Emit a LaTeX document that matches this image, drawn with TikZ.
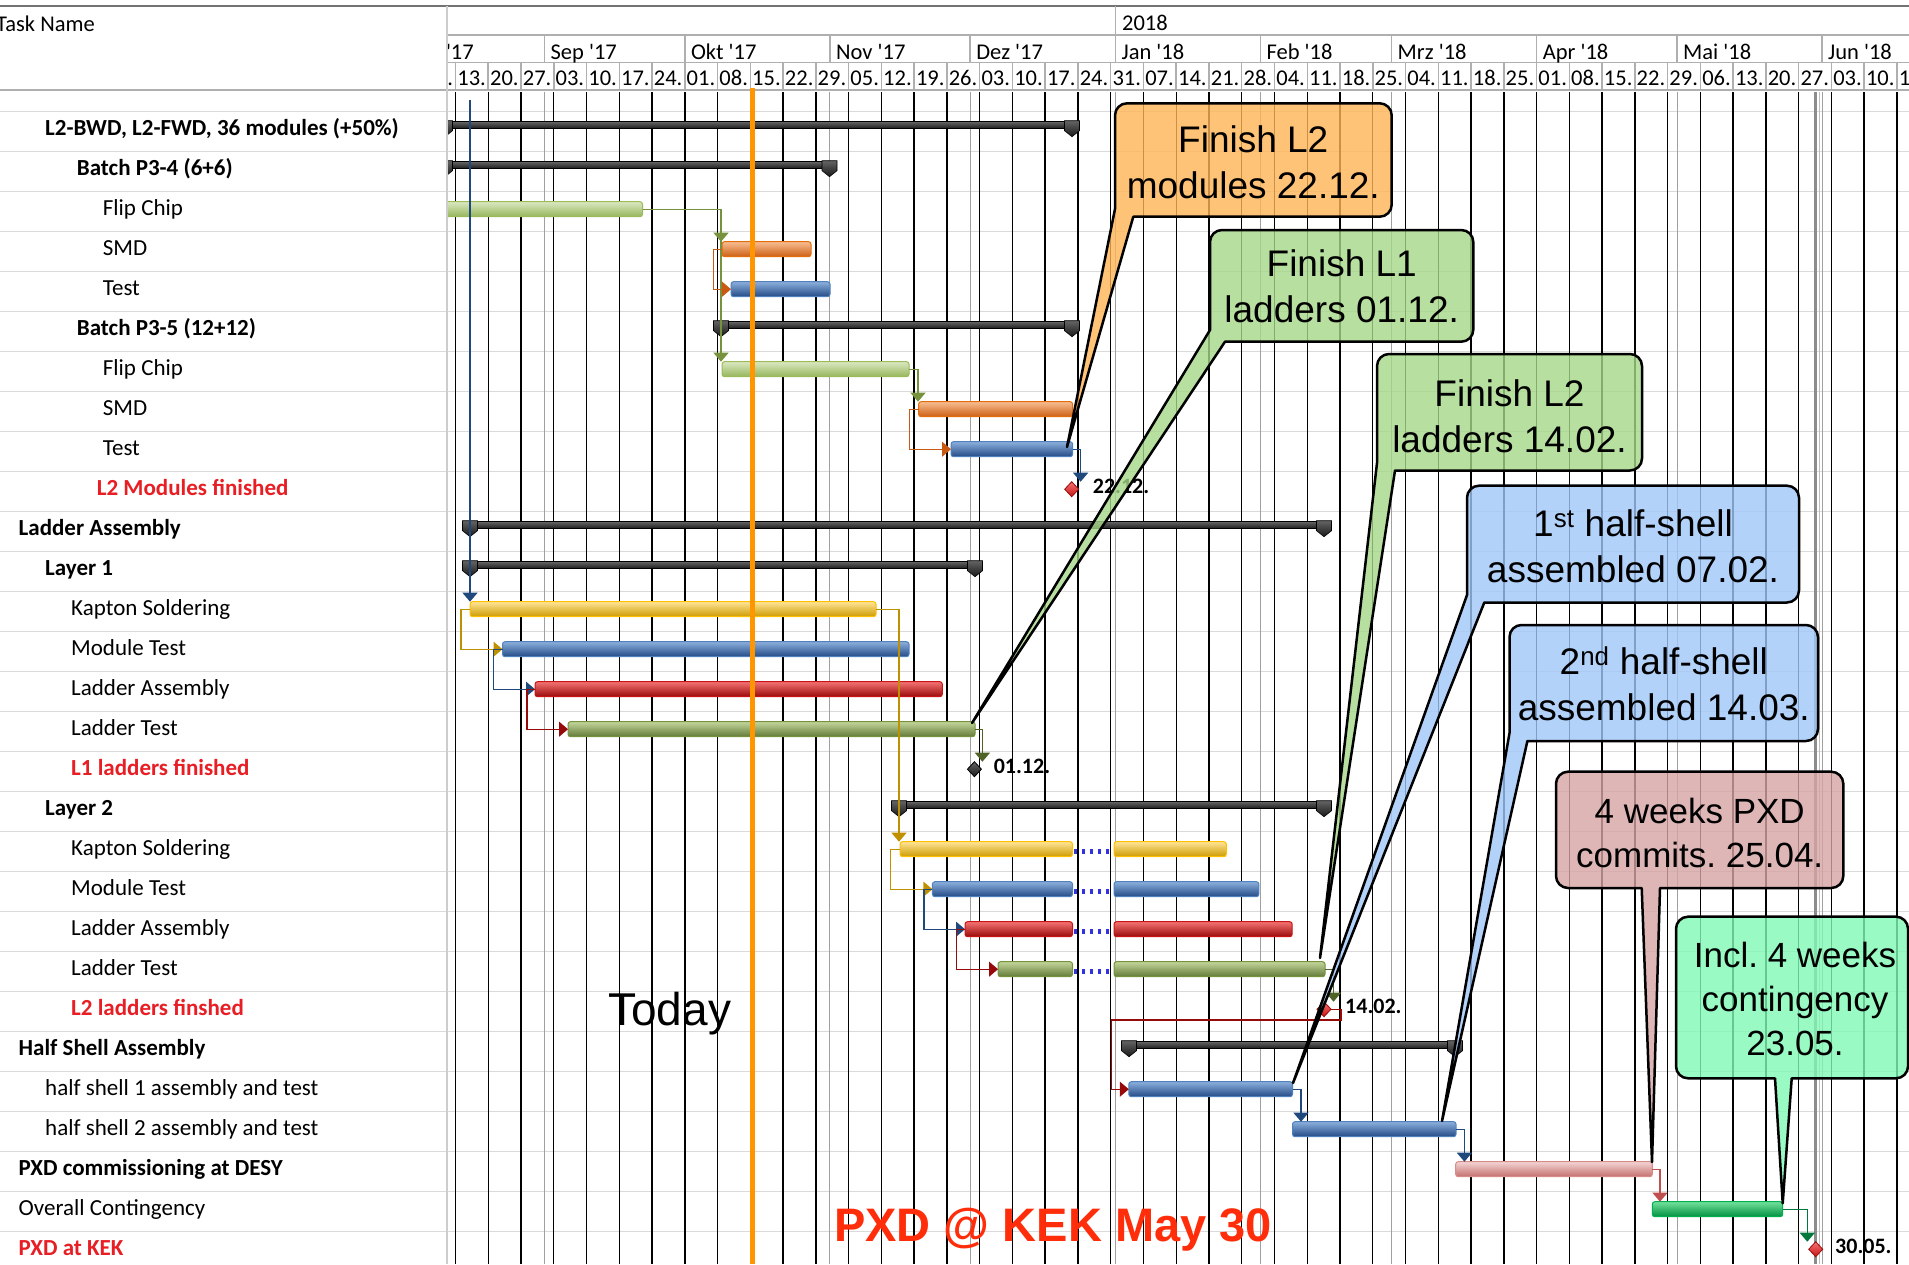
\documentclass[tikz,border=0pt]{standalone}
\usepackage{fontspec}
\setmainfont{Carlito}
\newfontfamily\arial{Liberation Sans}
\usetikzlibrary{arrows.meta}
\frenchspacing
\newcommand\apo{\textquotesingle}
% colours
\definecolor{rowc}{RGB}{218,218,218}
\definecolor{hdrc}{RGB}{175,175,175}
\definecolor{topc}{RGB}{115,115,115}
\definecolor{monc}{RGB}{160,160,160}
\definecolor{todayc}{RGB}{255,150,0}
\definecolor{taskred}{RGB}{232,30,37}
\definecolor{kekred}{RGB}{255,45,10}
\definecolor{lgT}{RGB}{218,232,192}\definecolor{lgB}{RGB}{150,182,92}\definecolor{lgD}{RGB}{155,187,89}
\definecolor{orT}{RGB}{248,190,145}\definecolor{orB}{RGB}{205,95,20}\definecolor{orD}{RGB}{228,108,10}
\definecolor{blT}{RGB}{140,175,220}\definecolor{blB}{RGB}{35,75,135}\definecolor{blD}{RGB}{79,129,189}
\definecolor{goT}{RGB}{255,228,150}\definecolor{goB}{RGB}{205,155,0}\definecolor{goD}{RGB}{255,192,0}
\definecolor{rdT}{RGB}{245,115,115}\definecolor{rdB}{RGB}{155,10,10}\definecolor{rdD}{RGB}{200,20,20}
\definecolor{olT}{RGB}{195,214,155}\definecolor{olB}{RGB}{98,122,55}\definecolor{olD}{RGB}{118,146,60}
\definecolor{pkT}{RGB}{244,212,212}\definecolor{pkB}{RGB}{196,112,110}\definecolor{pkD}{RGB}{215,140,138}
\definecolor{gnT}{RGB}{115,225,155}\definecolor{gnB}{RGB}{0,145,65}\definecolor{gnD}{RGB}{0,176,80}
\definecolor{sumT}{RGB}{100,100,100}\definecolor{sumB}{RGB}{25,25,25}
\definecolor{cgr}{RGB}{118,146,60}
\definecolor{cor}{RGB}{200,90,20}
\definecolor{cbl}{RGB}{31,73,125}
\definecolor{cgo}{RGB}{191,144,0}
\definecolor{cdr}{RGB}{150,10,10}
\definecolor{col}{RGB}{79,98,40}
\definecolor{cpk}{RGB}{192,80,77}
\definecolor{cdg}{RGB}{0,120,60}
\definecolor{fOr}{RGB}{255,181,86}
\definecolor{fGr}{RGB}{165,215,136}
\definecolor{fBl}{RGB}{161,199,249}
\definecolor{fPk}{RGB}{214,164,164}
\definecolor{fMi}{RGB}{129,249,181}
% helpers
\newcommand\gbar[4]{\draw[#4] (#1,{121.7+40*#3}) rectangle (#2,{136.7+40*#3});}
\newcommand\sumcap[2]{\draw[sumcapst] ({#1-7.5},{#2-1}) -- ({#1+7.5},{#2-1}) -- ({#1+7.5},{#2+9}) -- (#1,{#2+15}) -- ({#1-7.5},{#2+9}) -- cycle;}
\newcommand\sumbar[3]{%
  \draw[sumbarst] (#1,{121.7+40*#3}) rectangle (#2,{128.7+40*#3});
  \sumcap{#1}{121.7+40*#3}\sumcap{#2}{121.7+40*#3}}
\newcommand\mstone[3]{\draw[#3] (#1,{121.7+40*#2}) -- ({#1+7},{129.2+40*#2}) -- (#1,{136.7+40*#2}) -- ({#1-7},{129.2+40*#2}) -- cycle;}
\newcommand\callBL[8]{%
  \filldraw[#1] ({#2+12},#3) -- ({#4-12},#3) .. controls ({#4-5.4},#3) and (#4,{#3+5.4}) .. (#4,{#3+12})
   -- (#4,{#5-12}) .. controls (#4,{#5-5.4}) and ({#4-5.4},#5) .. ({#4-12},#5)
   -- (#7,#5) -- (#8) -- (#2,#6) -- (#2,{#3+12}) .. controls (#2,{#3+5.4}) and ({#2+5.4},#3) .. ({#2+12},#3) -- cycle;}
\newcommand\callBM[8]{%
  \filldraw[#1] ({#2+12},#3) -- ({#4-12},#3) .. controls ({#4-5.4},#3) and (#4,{#3+5.4}) .. (#4,{#3+12})
   -- (#4,{#5-12}) .. controls (#4,{#5-5.4}) and ({#4-5.4},#5) .. ({#4-12},#5)
   -- (#7,#5) -- (#8) -- (#6,#5) -- ({#2+12},#5) .. controls ({#2+5.4},#5) and (#2,{#5-5.4}) .. (#2,{#5-12})
   -- (#2,{#3+12}) .. controls (#2,{#3+5.4}) and ({#2+5.4},#3) .. ({#2+12},#3) -- cycle;}
\begin{document}
\begin{tikzpicture}[x=1pt,y=-1pt,
  rowline/.style={draw=rowc,line width=1.5},
  hdrl/.style={draw=hdrc,line width=1.5},
  weekl/.style={draw=black,line width=1.4},
  monl/.style={draw=monc,line width=1},
  task/.style={anchor=base west,inner sep=0,font=\fontsize{23}{27}\selectfont},
  taskb/.style={task,font=\fontsize{23}{27}\selectfont\bfseries},
  taskr/.style={taskb,text=taskred},
  hdr/.style={anchor=base west,inner sep=0,font=\fontsize{22.5}{26}\selectfont},
  mlab/.style={anchor=base west,inner sep=0,font=\fontsize{22}{26}\selectfont\bfseries},
  bar/.style={rounded corners=2.5,line width=1},
  lgbar/.style={bar,draw=lgD,top color=lgT,bottom color=lgB},
  orbar/.style={bar,draw=orD,top color=orT,bottom color=orB},
  blbar/.style={bar,draw=blD,top color=blT,bottom color=blB},
  gobar/.style={bar,draw=goD,top color=goT,bottom color=goB},
  rdbar/.style={bar,draw=rdD,top color=rdT,bottom color=rdB},
  olbar/.style={bar,draw=olD,top color=olT,bottom color=olB},
  pkbar/.style={bar,draw=pkD,top color=pkT,bottom color=pkB},
  gnbar/.style={bar,draw=gnD,top color=gnT,bottom color=gnB},
  sumbarst/.style={draw=black,line width=0.8,top color=sumT,bottom color=sumB},
  sumcapst/.style={draw=black,line width=0.6,top color=sumT,bottom color=sumB},
  msred/.style={draw=rdB,line width=0.8,top color=rdT,bottom color=rdD},
  msdark/.style={draw=black,line width=0.8,top color=sumT,bottom color=sumB},
  conn/.style={line width=1.2,-{Triangle[width=15pt,length=9pt]}},
  splitdot/.style={draw={rgb,255:red,50;green,50;blue,225},line width=5,dash pattern=on 3 off 5},
  callst/.style={draw=black,line width=2.5,line join=round,fill opacity=0.8},
  ctext/.style={align=center,inner sep=0,font=\arial\fontsize{37}{46}\selectfont},
  ctexts/.style={align=center,inner sep=0,font=\arial\fontsize{35}{44}\selectfont}]
\useasboundingbox (0,0) rectangle (1909,1264);
\fill[white] (0,0) rectangle (1909,1264);
\clip (0,0) rectangle (1909,1264);
% row lines
\foreach \r in {0,...,29}{\draw[rowline] (0,{111.7+40*\r}) -- (1909,{111.7+40*\r});}
% chart grid
\begin{scope}
\clip (448,88) rectangle (1909,1264);
\foreach \xm in {544.4,829.9,970.2,1115.4,1260.4,1391.5,1677.0,1822.0}{\draw[monl] (\xm,92) -- (\xm,1264);}
\foreach \k in {1,...,45}{\draw[weekl] ({422.72+32.76*\k},92) -- ({422.72+32.76*\k},1264);}
\draw[line width=3,draw={rgb,255:red,140;green,140;blue,140}] (1815,92) -- (1815,1264);
\draw[line width=1,draw={rgb,255:red,190;green,190;blue,190}] (1819.5,92) -- (1819.5,1264);
\end{scope}
% header
\draw[line width=2,draw=topc] (0,5.5) -- (1909,5.5);
\draw[hdrl] (447,35) -- (1909,35);
\draw[hdrl] (447,62.7) -- (1909,62.7);
\draw[hdrl] (0,90) -- (1909,90);
\draw[hdrl] (1115.4,5.5) -- (1115.4,35);
\node[hdr] (yr) at (1121.9,30.7) {2018};
\node[hdr] (tn) at (-4,31.7) {Task Name};
\begin{scope}
\clip (448,0) rectangle (1909,90);
\foreach \xm in {399.3,544.4,684.8,829.9,970.2,1115.4,1260.4,1391.5,1536.6,1677.0,1822.0}{\draw[hdrl] (\xm,35) -- (\xm,62.7);}
\foreach \k in {0,...,45}{\draw[hdrl] ({422.72+32.76*\k},62.7) -- ({422.72+32.76*\k},90);}
\foreach \xm/\lab [count=\i] in {399.3/Aug \apo17,544.4/Sep \apo17,684.8/Okt \apo17,829.9/Nov \apo17,970.2/Dez \apo17,1115.4/Jan \apo18,1260.4/Feb \apo18,1391.5/Mrz \apo18,1536.6/Apr \apo18,1677.0/Mai \apo18,1822.0/Jun \apo18}{\node[hdr] (mo\i) at ({\xm+6},59.3) {\lab};}
\foreach \lab [count=\k from 0] in {06,13,20,27,03,10,17,24,01,08,15,22,29,05,12,19,26,03,10,17,24,31,07,14,21,28,04,11,18,25,04,11,18,25,01,08,15,22,29,06,13,20,27,03,10,17}{\node[hdr] (dy\k) at ({424.4+32.76*\k},85) {\lab.};}
\end{scope}
\draw[line width=2.5,draw={rgb,255:red,205;green,205;blue,205}] (447,5.5) -- (447,1264);
% task names
\node[taskb] (t0) at (45,135.1) {L2-BWD, L2-FWD, 36 modules (+50\%)};
\node[taskb] (t1) at (76.7,175.1) {Batch P3-4 (6+6)};
\node[task] (t2) at (102.7,215.1) {Flip Chip};
\node[task] (t3) at (102.7,255.1) {SMD};
\node[task] (t4) at (102.7,295.1) {Test};
\node[taskb] (t5) at (76.7,335.1) {Batch P3-5 (12+12)};
\node[task] (t6) at (102.7,375.1) {Flip Chip};
\node[task] (t7) at (102.7,415.1) {SMD};
\node[task] (t8) at (102.7,455.1) {Test};
\node[taskr] (t9) at (96.7,495.1) {L2 Modules finished};
\node[taskb] (t10) at (18.5,535.1) {Ladder Assembly};
\node[taskb] (t11) at (45,575.1) {Layer 1};
\node[task] (t12) at (71,615.1) {Kapton Soldering};
\node[task] (t13) at (71,655.1) {Module Test};
\node[task] (t14) at (71,695.1) {Ladder Assembly};
\node[task] (t15) at (71,735.1) {Ladder Test};
\node[taskr] (t16) at (71,775.1) {L1 ladders finished};
\node[taskb] (t17) at (45,815.1) {Layer 2};
\node[task] (t18) at (71,855.1) {Kapton Soldering};
\node[task] (t19) at (71,895.1) {Module Test};
\node[task] (t20) at (71,935.1) {Ladder Assembly};
\node[task] (t21) at (71,975.1) {Ladder Test};
\node[taskr] (t22) at (71,1015.1) {L2 ladders finshed};
\node[taskb] (t23) at (18.5,1055.1) {Half Shell Assembly};
\node[task] (t24) at (45,1095.1) {half shell 1 assembly and test};
\node[task] (t25) at (45,1135.1) {half shell 2 assembly and test};
\node[taskb] (t26) at (18.5,1175.1) {PXD commissioning at DESY};
\node[task] (t27) at (18.5,1215.1) {Overall Contingency};
\node[taskr] (t28) at (18.5,1255.1) {PXD at KEK};
% gantt content
\begin{scope}
\clip (448,88) rectangle (1909,1264);
% summaries
\sumbar{445}{1072}{0}
\sumbar{445}{829.5}{1}
\sumbar{721}{1072}{5}
\sumbar{470}{1324}{10}
\sumbar{470}{975}{11}
\sumbar{899}{1324}{17}
\sumbar{1129}{1455}{23}
% bars
\gbar{430}{642.5}{2}{lgbar}
\gbar{722}{811}{3}{orbar}
\gbar{731}{830}{4}{blbar}
\gbar{722}{909}{6}{lgbar}
\gbar{918.6}{1072.6}{7}{orbar}
\gbar{951}{1072.6}{8}{blbar}
\gbar{470}{876}{12}{gobar}
\gbar{502.5}{909}{13}{blbar}
\gbar{535}{942.3}{14}{rdbar}
\gbar{568}{975}{15}{olbar}
\gbar{900}{1072.5}{18}{gobar}\gbar{1114}{1226.3}{18}{gobar}
\gbar{932.4}{1072.5}{19}{blbar}\gbar{1114}{1258.9}{19}{blbar}
\gbar{965}{1072.5}{20}{rdbar}\gbar{1114}{1292.2}{20}{rdbar}
\gbar{998}{1072.5}{21}{olbar}\gbar{1114}{1325}{21}{olbar}
\gbar{1128.8}{1292.5}{24}{blbar}
\gbar{1292.5}{1456}{25}{blbar}
\gbar{1455.7}{1652.3}{26}{pkbar}
\gbar{1652.3}{1782.7}{27}{gnbar}
\foreach \r in {18,19,20,21}{\draw[splitdot] (1074,{131.5+40*\r}) -- (1113,{131.5+40*\r});}
% milestones
\mstone{1071.7}{9}{msred}
\mstone{974.4}{16}{msdark}
\mstone{1324}{22}{msred}
\mstone{1815.7}{28}{msred}
\node[mlab] (m9) at (1092.7,493.3) {22.12.};
\node[mlab] (m16) at (993.6,773.3) {01.12.};
\node[mlab] (m22) at (1345,1013.3) {14.02.};
\node[mlab] (m28) at (1835,1253.3) {30.05.};
% connectors
\draw[conn,cgr] (642.5,209.2) -| (721,241.7);
\draw[conn,cgr] (642.5,209.2) -| (721,361.7);
\draw[conn,cor] (722,249.2) -- (713.7,249.2) |- (731,289.2);
\draw[conn,cgr] (909,369.2) -| (918,401.7);
\draw[conn,cor] (918.6,409.2) -- (909.6,409.2) |- (951,449.2);
\draw[conn,cbl] (1072.6,449.2) -| (1080.6,481.7);
\draw[conn,cbl] (470,100) -- (470,601.7);
\draw[conn,cgo] (470,609.2) -- (461,609.2) |- (502.5,649.2);
\draw[conn,cbl] (502.5,649.2) -- (493.6,649.2) |- (535,689.2);
\draw[conn,cdr] (535,689.2) -- (527,689.2) |- (568,729.2);
\draw[conn,col] (975,729.2) -| (982.4,761.7);
\draw[conn,cgo] (876,609.2) -| (899,841.7);
\draw[conn,cgo] (900,849.2) -- (890.7,849.2) |- (932.4,889.2);
\draw[conn,cbl] (932.4,889.2) -- (924,889.2) |- (965,929.2);
\draw[conn,cdr] (965,929.2) -- (956.5,929.2) |- (998,969.2);
\draw[conn,col] (1325,969.2) -| (1333.5,1001.7);
\draw[conn,cdr] (1331,1009.2) -- (1341,1009.2) -- (1341,1020) -- (1111.5,1020) |- (1128.8,1089.2);
\draw[conn,cbl] (1292.5,1089.2) -| (1301,1121.7);
\draw[conn,cbl] (1456,1129.2) -| (1464.4,1161.7);
\draw[conn,cpk] (1652.3,1169.2) -| (1660,1201.7);
\draw[conn,cdg] (1782.7,1209.2) -| (1807.3,1241.7);
% today line
\draw[line width=5,draw=todayc] (752.5,87) -- (752.5,1264);
\end{scope}
\node[anchor=base,inner sep=0,font=\arial\fontsize{46}{50}\selectfont] (today) at (669.7,1025) {Today};
\node[anchor=base,inner sep=0,text=kekred,font=\arial\bfseries\fontsize{47}{52}\selectfont] (kek) at (1053,1241.7) {PXD @ KEK May 30};
% callouts
\coordinate (tipA) at (1067,447);
\coordinate (tipB) at (972,723);
\coordinate (tipC) at (1320,958);
\coordinate (tipD) at (1293,1083);
\coordinate (tipE) at (1442,1121);
\coordinate (tipF) at (1652,1162);
\coordinate (tipG) at (1782.7,1203.3);
\callBL{callst,fill=fOr}{1115}{103.3}{1391.7}{216.7}{209}{1133.3}{tipA}
\node[ctext] (cA) at (1253.3,162.5) {Finish L2\\modules 22.12.};
\callBL{callst,fill=fGr}{1210}{230}{1473.3}{341.7}{330}{1225}{tipB}
\node[ctext] (cB) at (1341.7,286.7) {Finish L1\\ladders 01.12.};
\callBL{callst,fill=fGr}{1377}{354}{1642}{470.5}{463}{1395}{tipC}
\node[ctext] (cC) at (1509.5,415.8) {Finish L2\\ladders 14.02.};
\callBL{callst,fill=fBl}{1467}{485.7}{1799}{602.5}{595}{1484.3}{tipD}
\node[ctext] (cD) at (1633,545.8) {1\textsuperscript{st} half-shell\\assembled 07.02.};
\callBL{callst,fill=fBl}{1509.5}{625}{1818}{741}{733}{1527.4}{tipE}
\node[ctext] (cE) at (1663.8,684.2) {2\textsuperscript{nd} half-shell\\assembled 14.03.};
\callBM{callst,fill=fPk}{1556}{771.7}{1843.3}{888}{1641.7}{1660}{tipF}
\node[ctexts] (cF) at (1699.7,833.3) {4 weeks PXD\\commits. 25.04.};
\callBM{callst,fill=fMi}{1676}{916.7}{1908}{1078.3}{1775}{1791.7}{tipG}
\node[ctexts] (cG) at (1795,999) {Incl. 4 weeks\\contingency\\23.05.};
\end{tikzpicture}
\end{document}
